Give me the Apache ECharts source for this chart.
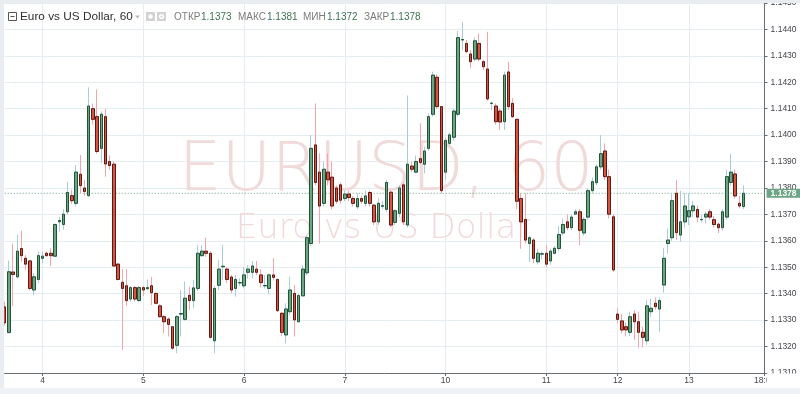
<!DOCTYPE html>
<html>
<head>
<meta charset="utf-8">
<script src="https://cdn.jsdelivr.net/npm/echarts@6.0.0/dist/echarts.min.js"></script>
<style>
html,body{margin:0;padding:0;background:#fff;}
#chart{width:800px;height:394px;}
</style>
</head>
<body>
<div id="chart"></div>
<script>
// Hourly EUR/USD candles (60 min), slot 0 .. 176
const opens = [
1.1335,1.13253,1.13482,1.13464,1.13571,1.13534,1.13524,1.13414,1.13454,1.13534,
1.13553,1.13553,1.13542,1.13672,1.13662,1.1371,1.13771,1.13742,1.13852,1.138,
1.13771,1.141,1.1407,1.1395,1.1407,1.139,1.1389,1.13512,1.13443,1.1343,
1.1338,1.13423,1.13374,1.13423,1.13419,1.1343,1.13401,1.13354,1.13313,1.13304,
1.13275,1.13205,1.13323,1.13303,1.13394,1.13374,1.1342,1.13544,1.13561,1.13553,
1.13222,1.13432,1.13502,1.13493,1.13463,1.1342,1.13441,1.1343,1.13481,1.13481,
1.13493,1.13471,1.1343,1.1342,1.13471,1.13454,1.13326,1.13244,1.13332,1.13401,
1.13294,1.13392,1.13479,1.1359,1.13963,1.1386,1.13742,1.1386,1.13841,1.138,
1.13812,1.1376,1.13777,1.1376,1.13729,1.1376,1.13742,1.13783,1.13735,1.13672,
1.13731,1.13719,1.13784,1.1367,1.13704,1.13812,1.1366,1.13883,1.1386,1.13911,
1.1389,1.1395,1.14079,1.14219,1.14108,1.1386,1.13969,1.13992,1.14079,1.1436,
1.14347,1.14307,1.14288,1.14347,1.14278,1.1425,1.1412,1.1411,1.14091,1.14051,
1.14239,1.1412,1.1406,1.1376,1.13681,1.1359,1.13603,1.13521,1.1355,1.13553,
1.13524,1.13553,1.13571,1.1363,1.13672,1.1365,1.13701,1.1371,1.1363,1.1369,
1.1379,1.1382,1.1388,1.1394,1.13843,1.13691,1.13323,1.13297,1.13275,1.13254,
1.13323,1.13294,1.13254,1.13222,1.13332,1.13364,1.13342,1.13433,1.1359,1.13612,
1.1378,1.13622,1.13672,1.13691,1.13714,1.13719,1.1368,1.1369,1.1371,1.1368,
1.13663,1.1365,1.1369,1.13821,1.13853,1.13742,1.1373
];
const closes = [
1.1329,1.13483,1.13473,1.13561,1.13544,1.13512,1.1342,1.13464,1.13544,1.13542,
1.13544,1.13544,1.13662,1.13677,1.13701,1.13783,1.13752,1.1386,1.13809,1.13787,
1.1411,1.1406,1.13938,1.14079,1.13891,1.13885,1.13505,1.13454,1.1342,1.13374,
1.13423,1.1338,1.13423,1.13414,1.13423,1.13404,1.13364,1.13313,1.13294,1.13284,
1.13194,1.13313,1.13325,1.13383,1.13374,1.13422,1.13553,1.13561,1.13553,1.13235,
1.1342,1.13493,1.13504,1.13454,1.13414,1.13454,1.13442,1.13471,1.13493,1.13505,
1.13481,1.13442,1.13431,1.13471,1.13462,1.13336,1.13254,1.13342,1.13414,1.13301,
1.13393,1.13493,1.13612,1.1395,1.13821,1.13732,1.13871,1.13831,1.13732,1.1375,
1.13754,1.13777,1.13764,1.13742,1.1376,1.1375,1.1377,1.13742,1.13672,1.13742,
1.13733,1.13821,1.1366,1.13714,1.138,1.13672,1.1389,1.13871,1.139,1.13897,
1.1394,1.1407,1.14227,1.14108,1.1379,1.1398,1.14001,1.14091,1.14369,1.14362,
1.14316,1.14278,1.14357,1.14288,1.14259,1.14137,1.14121,1.14051,1.1405,1.14227,
1.14108,1.1407,1.1375,1.13672,1.13603,1.13612,1.13534,1.13553,1.13551,1.13512,
1.13561,1.13572,1.13624,1.13662,1.1365,1.1369,1.1371,1.1364,1.13681,1.1379,
1.13824,1.1388,1.1393,1.13843,1.13701,1.1349,1.13303,1.13263,1.13263,1.13313,
1.13294,1.13254,1.13235,1.13354,1.13345,1.13351,1.13374,1.13534,1.13603,1.13752,
1.13631,1.13672,1.13732,1.13714,1.13732,1.1369,1.13681,1.13701,1.1369,1.13662,
1.1365,1.1371,1.13843,1.1386,1.1377,1.13732,1.1378
];
const lows = [
1.1328,1.1325,1.13354,1.13458,1.13521,1.1349,1.13414,1.13395,1.1344,1.13515,
1.1354,1.13505,1.1354,1.13635,1.13643,1.137,1.1374,1.1373,1.1378,1.1377,
1.13767,1.1404,1.1393,1.13894,1.13843,1.1387,1.135,1.1345,1.13187,1.13354,
1.1337,1.1337,1.1337,1.13391,1.13414,1.13357,1.1336,1.1331,1.1325,1.13238,
1.13187,1.13175,1.13238,1.13298,1.13338,1.13345,1.1341,1.1354,1.1354,1.1323,
1.13175,1.13414,1.13452,1.1344,1.13401,1.13389,1.1343,1.1342,1.13458,1.13458,
1.1347,1.13424,1.1342,1.13401,1.1345,1.1333,1.1324,1.13212,1.1332,1.13238,
1.1329,1.1339,1.1347,1.1358,1.1381,1.1359,1.1373,1.1381,1.1372,1.1374,
1.1374,1.1375,1.1375,1.1373,1.1372,1.1374,1.1373,1.1373,1.1366,1.1366,
1.1372,1.1371,1.1365,1.1366,1.1369,1.1366,1.1365,1.1386,1.13856,1.1389,
1.13856,1.1394,1.1407,1.141,1.1378,1.1383,1.1396,1.1398,1.1407,1.14322,
1.1431,1.14253,1.1428,1.1428,1.14246,1.1413,1.14095,1.1404,1.1402,1.1402,
1.14095,1.14064,1.1372,1.1357,1.1359,1.1352,1.13515,1.1351,1.1353,1.135,
1.1351,1.1355,1.1356,1.1362,1.1364,1.1364,1.137,1.13584,1.1362,1.1368,
1.1378,1.1381,1.1387,1.1383,1.13685,1.13483,1.13288,1.1325,1.13238,1.1324,
1.13225,1.13197,1.13197,1.13206,1.13313,1.1334,1.13256,1.13404,1.13553,1.136,
1.13603,1.13597,1.1365,1.1366,1.1369,1.1367,1.1367,1.13666,1.1368,1.1365,
1.1363,1.13638,1.1368,1.1381,1.1376,1.13723,1.1372
];
const highs = [
1.1337,1.13525,1.1359,1.13623,1.13638,1.13546,1.13528,1.13477,1.1356,1.13559,
1.1356,1.13572,1.13666,1.13691,1.1372,1.13824,1.13793,1.13887,1.13925,1.1383,
1.14181,1.1412,1.14173,1.1409,1.14099,1.13923,1.139,1.13515,1.13493,1.13493,
1.1343,1.1343,1.1343,1.1343,1.13454,1.13464,1.13405,1.1336,1.1332,1.1331,
1.13278,1.1332,1.13414,1.13446,1.13427,1.13452,1.13584,1.13584,1.13612,1.1356,
1.1343,1.13527,1.13584,1.135,1.13471,1.13471,1.13458,1.13502,1.13508,1.13524,
1.13524,1.13493,1.13471,1.13477,1.13534,1.13456,1.1333,1.13364,1.13464,1.13433,
1.134,1.13508,1.1362,1.14001,1.1412,1.13931,1.139,1.13931,1.139,1.1381,
1.1382,1.1379,1.1379,1.1377,1.1378,1.1377,1.1379,1.1379,1.1374,1.1376,
1.1375,1.1383,1.1379,1.1372,1.1381,1.1382,1.1415,1.139,1.13923,1.14045,
1.13957,1.14083,1.1424,1.1423,1.1411,1.1399,1.1401,1.141,1.14394,1.14429,
1.1436,1.14322,1.1437,1.14385,1.14284,1.14391,1.14126,1.1412,1.141,1.1424,
1.14278,1.1414,1.1406,1.1378,1.1378,1.1362,1.1361,1.1357,1.1356,1.13584,
1.1357,1.1358,1.13656,1.13685,1.137,1.137,1.1372,1.1372,1.1369,1.138,
1.1384,1.1389,1.14,1.13969,1.1387,1.13701,1.13345,1.13323,1.1329,1.13332,
1.13338,1.13332,1.13275,1.13376,1.13382,1.13386,1.13386,1.13572,1.13647,1.1378,
1.1383,1.1379,1.1378,1.1378,1.1375,1.13735,1.137,1.1371,1.1372,1.13694,
1.1367,1.1372,1.1387,1.1393,1.1387,1.1377,1.1381
];
// x-axis tick labels and their slot indices
const tickLabels = ['4','5','6','7','10','11','12','13','18:00'];
const tickSlots  = [9,33,57,81,105,129,146,163,181];
const slotCount = 182;
// y-axis tick labels
const yTicks = [1.1310,1.1320,1.1330,1.1340,1.1350,1.1360,1.1370,1.1380,1.1390,1.1400,1.1410,1.1420,1.1430,1.1440,1.1450];
const yMin = 1.131, yMax = 1.145, yStep = 0.001;

const cats = [];
for (let i = 0; i < slotCount; i++) cats.push('');
tickSlots.forEach((s, j) => { cats[s] = tickLabels[j]; });

const full = [], bodies = [];
for (let i = 0; i < slotCount; i++) {
  if (i < opens.length) {
    const o = opens[i], c = closes[i];
    full.push([o, c, lows[i], highs[i]]);
    bodies.push([o, c, Math.min(o, c), Math.max(o, c)]);
  } else { full.push('-'); bodies.push('-'); }
}
const last = opens.length - 1;
const lastPrice = closes[last];
const priceLine = cats.map(() => lastPrice);

const upFill = '#6ba583', upBorder = '#225437';
const dnFill = '#d75442', dnBorder = '#5b1a13';
const upWick = '#a9cdd6', dnWick = '#f4a4ab';
const gridColor = '#e6edf1';
const axisTextColor = '#44474d';
const isTick = (idx, val) => val !== '';
const wmColor = '#f0dada';

const chart = echarts.init(document.getElementById('chart'), null, {renderer: 'canvas'});
const hdrY = 17;
chart.setOption({
  animation: false,
  backgroundColor: '#ffffff',
  grid: {left: 4.72, right: 35.44, top: 3, bottom: 21, containLabel: false, outerBoundsMode: 'none'},
  xAxis: {
    type: 'category', data: cats, boundaryGap: false,
    axisLine: {lineStyle: {color: '#6a6d72', width: 1}},
    axisTick: {show: true, interval: isTick, length: 3, lineStyle: {color: '#6a6d72'}},
    axisLabel: {interval: isTick, margin: 3, fontSize: 8.5, color: axisTextColor, fontFamily: 'Liberation Sans', hideOverlap: false},
    splitLine: {show: true, interval: isTick, lineStyle: {color: gridColor, width: 1}}
  },
  yAxis: {
    type: 'value', position: 'right', min: yMin, max: yMax, interval: yStep,
    axisLine: {show: true, lineStyle: {color: '#6a6d72', width: 1}},
    axisTick: {show: true, length: 3, customValues: yTicks, lineStyle: {color: '#6a6d72'}},
    axisLabel: {margin: 6, fontSize: 8.5, color: axisTextColor, fontFamily: 'Liberation Sans',
      customValues: yTicks, showMinLabel: true, showMaxLabel: true, hideOverlap: false,
      formatter: v => Number(v).toFixed(4)},
    splitLine: {show: true, lineStyle: {color: gridColor, width: 1}}
  },
  series: [
    {
      type: 'candlestick', name: 'wicks', data: full, barWidth: 3, z: 3,
      itemStyle: {color: upWick, color0: dnWick, borderColor: upWick, borderColor0: dnWick, borderWidth: 1},
      silent: true
    },
    {
      type: 'candlestick', name: 'EURUSD', data: bodies, barWidth: 3, z: 4,
      itemStyle: {color: upFill, color0: dnFill, borderColor: upBorder, borderColor0: dnBorder, borderWidth: 1},
      silent: true
    },
    {
      type: 'line', name: 'last', data: priceLine, symbol: 'none', silent: true, z: 2,
      lineStyle: {color: '#6ba583', type: [1, 2], width: 1},
      endLabel: {show: true, distance: 2, formatter: () => lastPrice.toFixed(4),
        backgroundColor: '#6ba583', color: '#ffffff', fontSize: 8.5, fontWeight: 'bold',
        fontFamily: 'Liberation Sans', lineHeight: 9, padding: [0, 4, 0, 4]}
    }
  ],
  graphic: [
    // watermark
    {type: 'text', z: 1, x: 386, y: 172, silent: true,
      style: {text: 'EURUSD, 60', font: '200 68px "DejaVu Sans"', fill: wmColor, align: 'center', verticalAlign: 'middle'}},
    {type: 'text', z: 1, x: 383, y: 229, silent: true,
      style: {text: 'Euro vs US Dollar', font: '200 34px "DejaVu Sans"', fill: wmColor, align: 'center', verticalAlign: 'middle'}},
    // header legend
    {type: 'rect', z: 50, shape: {x: 8.5, y: 12.5, width: 8, height: 8}, style: {fill: '#fff', stroke: '#555', lineWidth: 1}},
    {type: 'line', z: 51, shape: {x1: 10.5, y1: 16.5, x2: 14.5, y2: 16.5}, style: {stroke: '#555', lineWidth: 1}},
    {type: 'text', z: 50, x: 20, y: hdrY, style: {text: 'Euro vs US Dollar, 60', font: '11.8px "Liberation Sans"', fill: '#2f2f2f', verticalAlign: 'middle'}},
    {type: 'polygon', z: 50, shape: {points: [[135, 15.5], [140, 15.5], [137.5, 18.5]]}, style: {fill: '#b8b8b8'}},
    {type: 'rect', z: 50, shape: {x: 146, y: 12, width: 9, height: 9}, style: {fill: '#d3d3d3'}},
    {type: 'circle', z: 51, shape: {cx: 150.5, cy: 16.5, r: 2.2}, style: {fill: '#fff'}},
    {type: 'rect', z: 50, shape: {x: 157, y: 12, width: 9, height: 9}, style: {fill: '#d3d3d3'}},
    {type: 'circle', z: 51, shape: {cx: 161.5, cy: 16.5, r: 2.6}, style: {fill: '#fff'}},
    {type: 'circle', z: 52, shape: {cx: 161.5, cy: 16.5, r: 1.1}, style: {fill: '#d3d3d3'}},
    {type: 'text', z: 50, x: 174, y: hdrY, style: {text: 'ОТКР', font: '10px "Liberation Sans"', fill: '#7b7b7b', verticalAlign: 'middle'}},
    {type: 'text', z: 50, x: 201, y: hdrY, style: {text: opens[last].toFixed(4), font: '10px "Liberation Sans"', fill: '#3b7450', verticalAlign: 'middle'}},
    {type: 'text', z: 50, x: 238, y: hdrY, style: {text: 'МАКС', font: '10px "Liberation Sans"', fill: '#7b7b7b', verticalAlign: 'middle'}},
    {type: 'text', z: 50, x: 267, y: hdrY, style: {text: highs[last].toFixed(4), font: '10px "Liberation Sans"', fill: '#3b7450', verticalAlign: 'middle'}},
    {type: 'text', z: 50, x: 303, y: hdrY, style: {text: 'МИН', font: '10px "Liberation Sans"', fill: '#7b7b7b', verticalAlign: 'middle'}},
    {type: 'text', z: 50, x: 327, y: hdrY, style: {text: lows[last].toFixed(4), font: '10px "Liberation Sans"', fill: '#3b7450', verticalAlign: 'middle'}},
    {type: 'text', z: 50, x: 364, y: hdrY, style: {text: 'ЗАКР', font: '10px "Liberation Sans"', fill: '#7b7b7b', verticalAlign: 'middle'}},
    {type: 'text', z: 50, x: 390, y: hdrY, style: {text: closes[last].toFixed(4), font: '10px "Liberation Sans"', fill: '#3b7450', verticalAlign: 'middle'}},
    // frame covers
    {type: 'rect', z: 100, shape: {x: 766.6, y: 373.6, width: 34, height: 15}, style: {fill: '#ffffff'}},
    {type: 'rect', z: 101, shape: {x: 0, y: 0, width: 800, height: 3}, style: {fill: '#e9ecf0'}},
    {type: 'rect', z: 101, shape: {x: 0, y: 0, width: 4, height: 394}, style: {fill: '#e9ecf0'}},
    {type: 'rect', z: 101, shape: {x: 0, y: 388, width: 800, height: 6}, style: {fill: '#eef1f5'}}
  ]
});
</script>
</body>
</html>
